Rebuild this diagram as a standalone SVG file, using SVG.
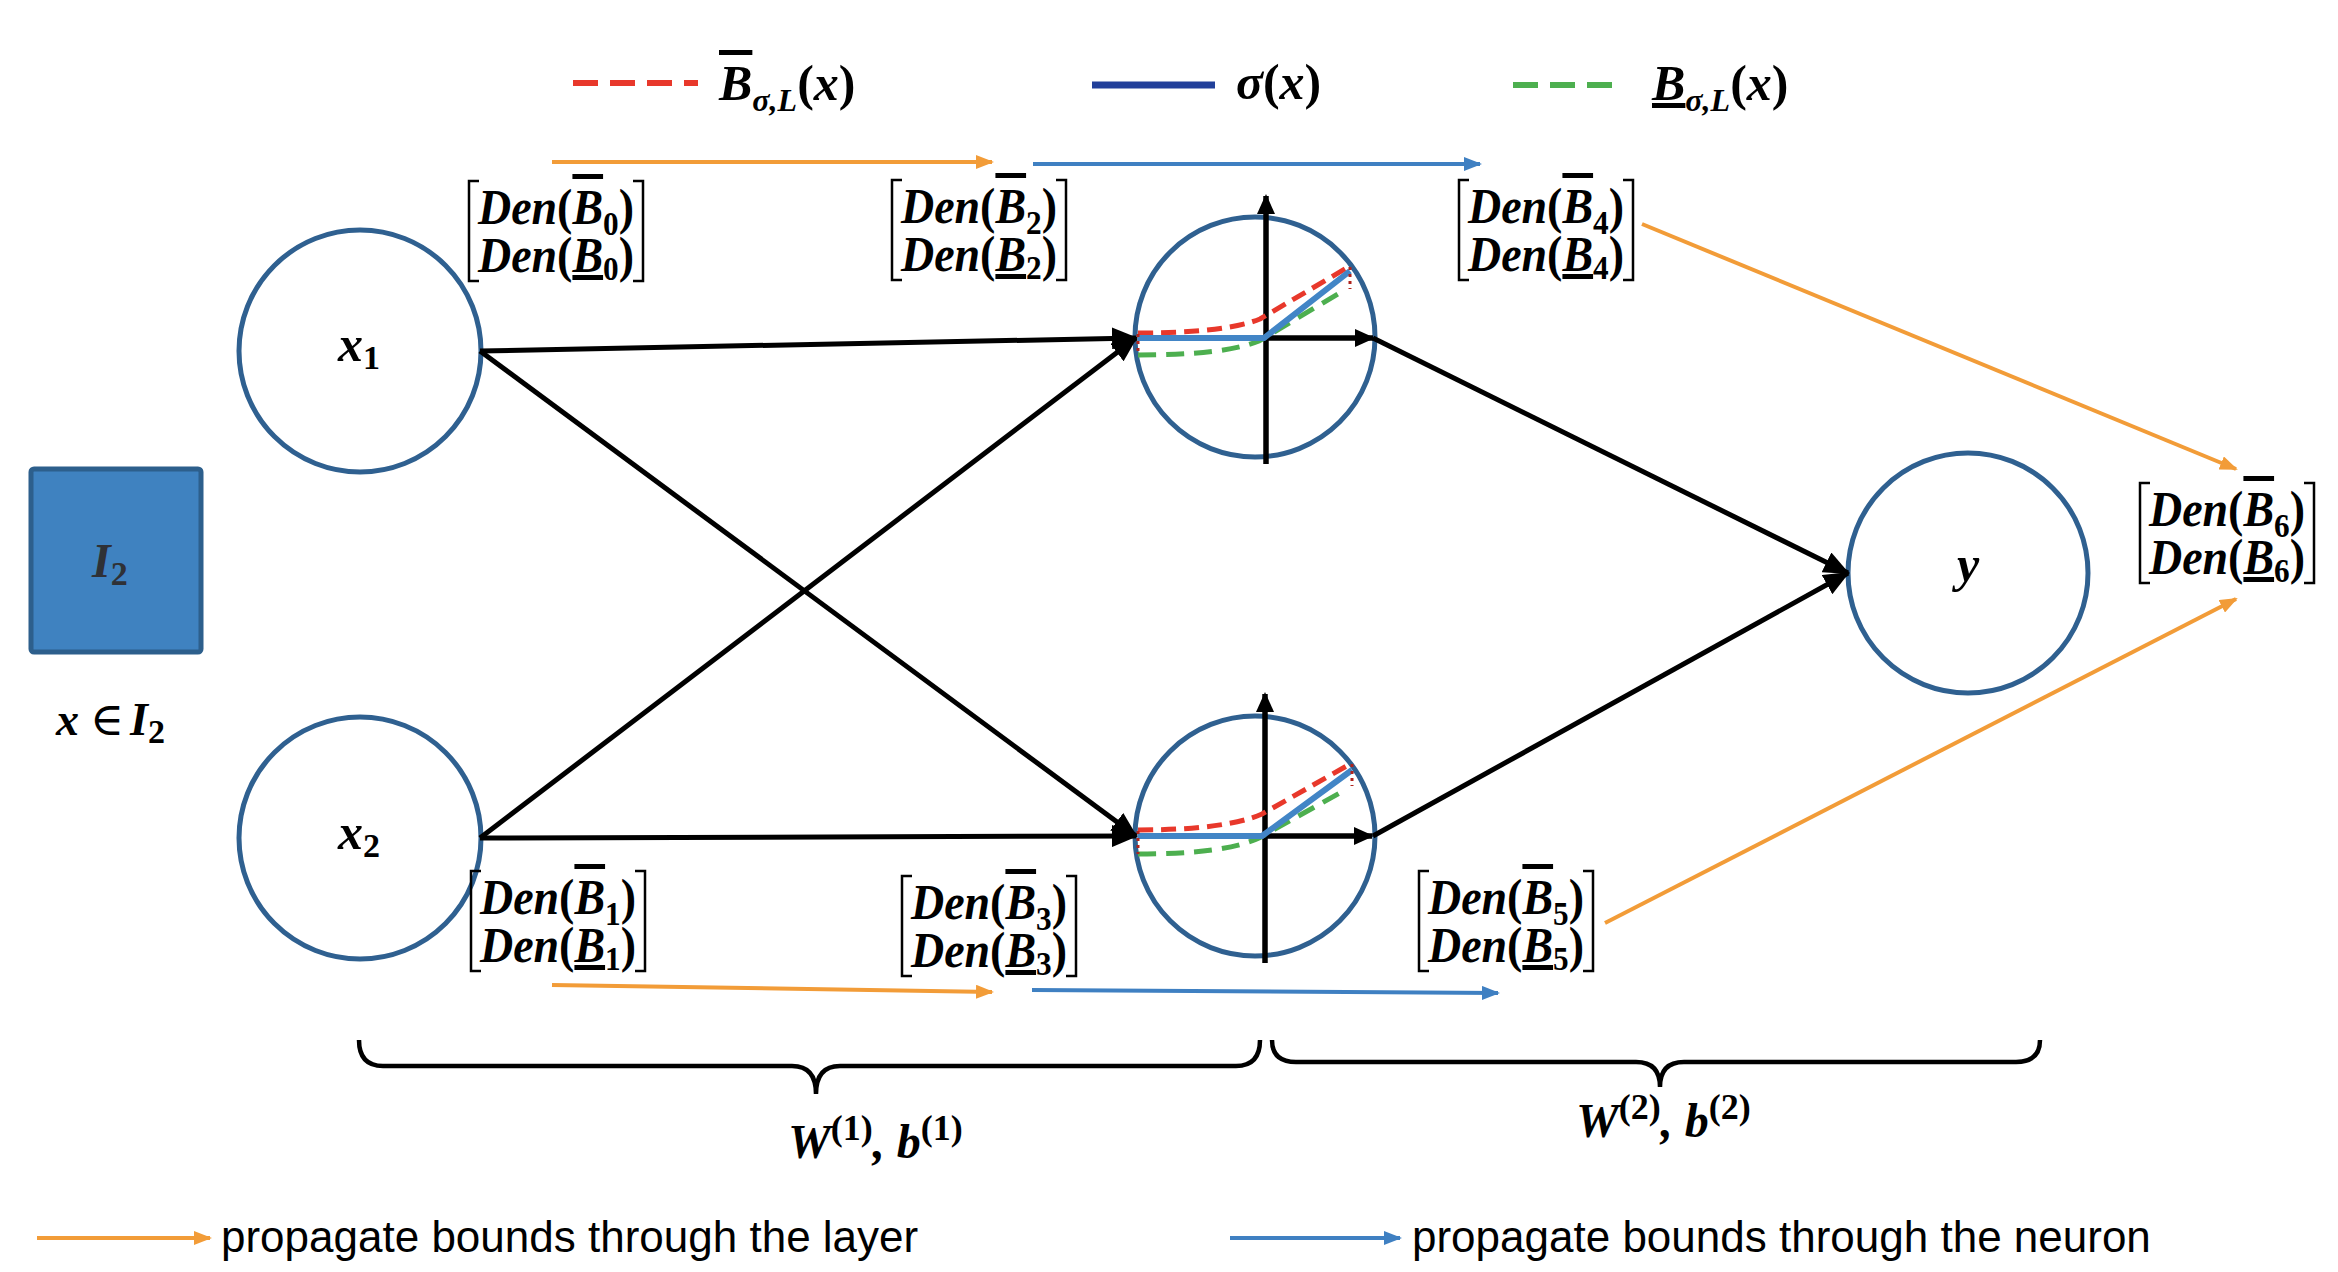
<svg xmlns="http://www.w3.org/2000/svg" width="2338" height="1272" viewBox="0 0 2338 1272">
<style>
.m { font-family: "Liberation Serif", "DejaVu Serif", serif; font-weight: bold; font-style: italic; fill: #000; }
.up { font-style: normal; }
.ov { text-decoration: overline; }
.un { text-decoration: underline; }
.brk { fill: none; stroke: #000; stroke-width: 2.5; }
.node { fill: none; stroke: #2F6090; stroke-width: 5; }
.conn { stroke: #000; stroke-width: 5; fill: none; marker-end: url(#ah); }
.axis { stroke: #000; stroke-width: 5.5; fill: none; marker-end: url(#ax); }
.lay { stroke: #F29C38; stroke-width: 4; fill: none; marker-end: url(#ao); }
.neu { stroke: #3F80C2; stroke-width: 4; fill: none; marker-end: url(#ab); }
.hi { stroke: #E8382B; stroke-width: 5; fill: none; stroke-dasharray: 15 8; }
.lo { stroke: #4DAF4F; stroke-width: 5; fill: none; stroke-dasharray: 18 10; }
.sg { stroke: #4285C6; stroke-width: 6; fill: none; }
.dot { stroke: #B0231C; stroke-width: 3; fill: none; stroke-dasharray: 3 4; }
.lgd { font-family: "Liberation Sans", Arial, sans-serif; font-size: 44px; fill: #000; }
.bl { font-size: 50px; }
.sb { font-size: 34px; font-style: normal; }
</style>
<defs>
<marker id="ah" markerUnits="userSpaceOnUse" markerWidth="26" markerHeight="22" refX="24" refY="11" orient="auto"><path d="M0,0 L26,11 L0,22 z" fill="#000"/></marker>
<marker id="ax" markerUnits="userSpaceOnUse" markerWidth="20" markerHeight="18" refX="18" refY="9" orient="auto"><path d="M0,0 L20,9 L0,18 z" fill="#000"/></marker>
<marker id="ao" markerUnits="userSpaceOnUse" markerWidth="18" markerHeight="14" refX="16" refY="7" orient="auto"><path d="M0,0 L18,7 L0,14 z" fill="#F29C38"/></marker>
<marker id="ab" markerUnits="userSpaceOnUse" markerWidth="18" markerHeight="14" refX="16" refY="7" orient="auto"><path d="M0,0 L18,7 L0,14 z" fill="#3F80C2"/></marker>
</defs>
<rect width="2338" height="1272" fill="#fff"/>

<!-- top legend -->
<g id="legend-top">
  <line x1="573" y1="83" x2="698" y2="83" stroke="#E8382B" stroke-width="6" stroke-dasharray="25 12"/>
  <text class="m" x="719" y="100" font-size="50"><tspan class="ov">B</tspan><tspan font-size="32" dy="11">σ,L</tspan><tspan class="up" dy="-11">(</tspan>x<tspan class="up">)</tspan></text>
  <line x1="1092" y1="85" x2="1215" y2="85" stroke="#22409A" stroke-width="7"/>
  <text class="m" x="1236" y="99" font-size="50">σ<tspan class="up">(</tspan>x<tspan class="up">)</tspan></text>
  <line x1="1513" y1="85" x2="1615" y2="85" stroke="#4DAF4F" stroke-width="6" stroke-dasharray="25 12"/>
  <text class="m" x="1652" y="100" font-size="50"><tspan class="un">B</tspan><tspan font-size="32" dy="11">σ,L</tspan><tspan class="up" dy="-11">(</tspan>x<tspan class="up">)</tspan></text>
</g>

<!-- input box -->
<g id="input">
  <rect x="31" y="469" width="170" height="183" rx="3" fill="#3F82C0" stroke="#2D5F8C" stroke-width="5"/>
  <text class="m" x="92" y="577" font-size="48" style="fill:#2F3136">I<tspan class="up" font-size="34" dy="8">2</tspan></text>
  <text class="m" x="56" y="735" font-size="46">x<tspan x="90" class="up" font-weight="normal">∈</tspan><tspan x="130">I</tspan><tspan class="up" font-size="34" dy="8">2</tspan></text>
</g>

<!-- nodes -->
<g id="x1">
  <circle class="node" cx="360" cy="351" r="121"/>
  <text class="m" x="338" y="361" font-size="50">x<tspan class="sb" dy="8">1</tspan></text>
</g>
<g id="x2">
  <circle class="node" cx="360" cy="838" r="121"/>
  <text class="m" x="338" y="849" font-size="50">x<tspan class="sb" dy="8">2</tspan></text>
</g>
<g id="h1" transform="translate(1255,337)">
  <circle class="node" r="120"/>
  <line class="axis" x1="11" y1="127" x2="11" y2="-141"/>
  <line class="axis" x1="11" y1="1" x2="118" y2="1"/>
  <path class="lo" d="M-117,18 Q-30,18 4,4 L88,-46"/>
  <path class="hi" d="M-117,-4 Q-30,-4 5,-18 L95,-71"/>
  <path class="sg" d="M-117,1 L9,1 L95,-66"/>
  <path class="dot" d="M-117,-3 V18 M95,-70 V-48"/>
</g>
<g id="h2" transform="translate(1255,836)">
  <circle class="node" r="120"/>
  <line class="axis" x1="10" y1="127" x2="10" y2="-142"/>
  <line class="axis" x1="10" y1="0" x2="117" y2="0"/>
  <path class="lo" d="M-117,18 Q-30,18 4,2 L90,-46"/>
  <path class="hi" d="M-117,-6 Q-30,-6 7,-22 L97,-73"/>
  <path class="sg" d="M-117,0 L7,0 L97,-66"/>
  <path class="dot" d="M-117,-5 V18 M97,-72 V-50"/>
</g>
<g id="y">
  <circle class="node" cx="1968" cy="573" r="120"/>
  <text class="m" x="1957" y="581" font-size="50">y</text>
</g>

<!-- connectors -->
<g id="connectors">
  <line class="conn" x1="480" y1="351" x2="1136" y2="338"/>
  <line class="conn" x1="480" y1="351" x2="1136" y2="836"/>
  <line class="conn" x1="480" y1="838" x2="1136" y2="338"/>
  <line class="conn" x1="480" y1="838" x2="1136" y2="836"/>
  <line class="conn" x1="1373" y1="338" x2="1848" y2="573"/>
  <line class="conn" x1="1373" y1="836" x2="1848" y2="573"/>
  <line class="lay" x1="552" y1="162" x2="992" y2="162"/>
  <line class="neu" x1="1033" y1="164" x2="1480" y2="164"/>
  <line class="lay" x1="552" y1="985" x2="992" y2="992"/>
  <line class="neu" x1="1032" y1="990" x2="1498" y2="993"/>
  <line class="lay" x1="1642" y1="224" x2="2236" y2="469"/>
  <line class="lay" x1="1605" y1="923" x2="2236" y2="599"/>
</g>

<!-- bound labels -->
<g id="b0" transform="translate(467,181)">
  <path class="brk" d="M12,0 H2 V100 H12 M166,0 H176 V100 H166"/>
  <text class="m bl" x="11" y="43" textLength="156" lengthAdjust="spacingAndGlyphs">Den<tspan class="up">(</tspan><tspan class="ov">B</tspan><tspan class="sb" dy="11">0</tspan><tspan class="up" dy="-11">)</tspan></text>
  <text class="m bl" x="11" y="91" textLength="156" lengthAdjust="spacingAndGlyphs">Den<tspan class="up">(</tspan><tspan class="un">B</tspan><tspan class="sb" dy="8">0</tspan><tspan class="up" dy="-8">)</tspan></text>
</g>
<g id="b2" transform="translate(890,180)">
  <path class="brk" d="M12,0 H2 V100 H12 M166,0 H176 V100 H166"/>
  <text class="m bl" x="11" y="43" textLength="156" lengthAdjust="spacingAndGlyphs">Den<tspan class="up">(</tspan><tspan class="ov">B</tspan><tspan class="sb" dy="11">2</tspan><tspan class="up" dy="-11">)</tspan></text>
  <text class="m bl" x="11" y="91" textLength="156" lengthAdjust="spacingAndGlyphs">Den<tspan class="up">(</tspan><tspan class="un">B</tspan><tspan class="sb" dy="8">2</tspan><tspan class="up" dy="-8">)</tspan></text>
</g>
<g id="b4" transform="translate(1457,180)">
  <path class="brk" d="M12,0 H2 V100 H12 M166,0 H176 V100 H166"/>
  <text class="m bl" x="11" y="43" textLength="156" lengthAdjust="spacingAndGlyphs">Den<tspan class="up">(</tspan><tspan class="ov">B</tspan><tspan class="sb" dy="11">4</tspan><tspan class="up" dy="-11">)</tspan></text>
  <text class="m bl" x="11" y="91" textLength="156" lengthAdjust="spacingAndGlyphs">Den<tspan class="up">(</tspan><tspan class="un">B</tspan><tspan class="sb" dy="8">4</tspan><tspan class="up" dy="-8">)</tspan></text>
</g>
<g id="b6" transform="translate(2138,483)">
  <path class="brk" d="M12,0 H2 V100 H12 M166,0 H176 V100 H166"/>
  <text class="m bl" x="11" y="43" textLength="156" lengthAdjust="spacingAndGlyphs">Den<tspan class="up">(</tspan><tspan class="ov">B</tspan><tspan class="sb" dy="11">6</tspan><tspan class="up" dy="-11">)</tspan></text>
  <text class="m bl" x="11" y="91" textLength="156" lengthAdjust="spacingAndGlyphs">Den<tspan class="up">(</tspan><tspan class="un">B</tspan><tspan class="sb" dy="8">6</tspan><tspan class="up" dy="-8">)</tspan></text>
</g>
<g id="b1" transform="translate(469,871)">
  <path class="brk" d="M12,0 H2 V100 H12 M166,0 H176 V100 H166"/>
  <text class="m bl" x="11" y="43" textLength="156" lengthAdjust="spacingAndGlyphs">Den<tspan class="up">(</tspan><tspan class="ov">B</tspan><tspan class="sb" dy="11">1</tspan><tspan class="up" dy="-11">)</tspan></text>
  <text class="m bl" x="11" y="91" textLength="156" lengthAdjust="spacingAndGlyphs">Den<tspan class="up">(</tspan><tspan class="un">B</tspan><tspan class="sb" dy="8">1</tspan><tspan class="up" dy="-8">)</tspan></text>
</g>
<g id="b3" transform="translate(900,876)">
  <path class="brk" d="M12,0 H2 V100 H12 M166,0 H176 V100 H166"/>
  <text class="m bl" x="11" y="43" textLength="156" lengthAdjust="spacingAndGlyphs">Den<tspan class="up">(</tspan><tspan class="ov">B</tspan><tspan class="sb" dy="11">3</tspan><tspan class="up" dy="-11">)</tspan></text>
  <text class="m bl" x="11" y="91" textLength="156" lengthAdjust="spacingAndGlyphs">Den<tspan class="up">(</tspan><tspan class="un">B</tspan><tspan class="sb" dy="8">3</tspan><tspan class="up" dy="-8">)</tspan></text>
</g>
<g id="b5" transform="translate(1417,871)">
  <path class="brk" d="M12,0 H2 V100 H12 M166,0 H176 V100 H166"/>
  <text class="m bl" x="11" y="43" textLength="156" lengthAdjust="spacingAndGlyphs">Den<tspan class="up">(</tspan><tspan class="ov">B</tspan><tspan class="sb" dy="11">5</tspan><tspan class="up" dy="-11">)</tspan></text>
  <text class="m bl" x="11" y="91" textLength="156" lengthAdjust="spacingAndGlyphs">Den<tspan class="up">(</tspan><tspan class="un">B</tspan><tspan class="sb" dy="8">5</tspan><tspan class="up" dy="-8">)</tspan></text>
</g>

<!-- braces -->
<g id="brace1">
  <path d="M359,1040 Q359,1066 383,1066 L792,1066 Q816,1066 816,1094 Q816,1066 840,1066 L1236,1066 Q1260,1066 1260,1040" fill="none" stroke="#000" stroke-width="4.5"/>
  <text class="m" x="788" y="1158" font-size="48">W<tspan class="up" font-size="36" dy="-18">(1)</tspan><tspan dy="18">, b</tspan><tspan class="up" font-size="36" dy="-18">(1)</tspan></text>
</g>
<g id="brace2">
  <path d="M1272,1040 Q1272,1062 1296,1062 L1636,1062 Q1660,1062 1660,1087 Q1660,1062 1684,1062 L2016,1062 Q2040,1062 2040,1040" fill="none" stroke="#000" stroke-width="4.5"/>
  <text class="m" x="1576" y="1137" font-size="48">W<tspan class="up" font-size="36" dy="-18">(2)</tspan><tspan dy="18">, b</tspan><tspan class="up" font-size="36" dy="-18">(2)</tspan></text>
</g>

<!-- bottom legend -->
<g id="legend-bottom">
  <line class="lay" x1="37" y1="1238" x2="210" y2="1238"/>
  <text class="lgd" x="221" y="1252">propagate bounds through the layer</text>
  <line class="neu" x1="1230" y1="1238" x2="1400" y2="1238"/>
  <text class="lgd" x="1412" y="1252">propagate bounds through the neuron</text>
</g>
</svg>
